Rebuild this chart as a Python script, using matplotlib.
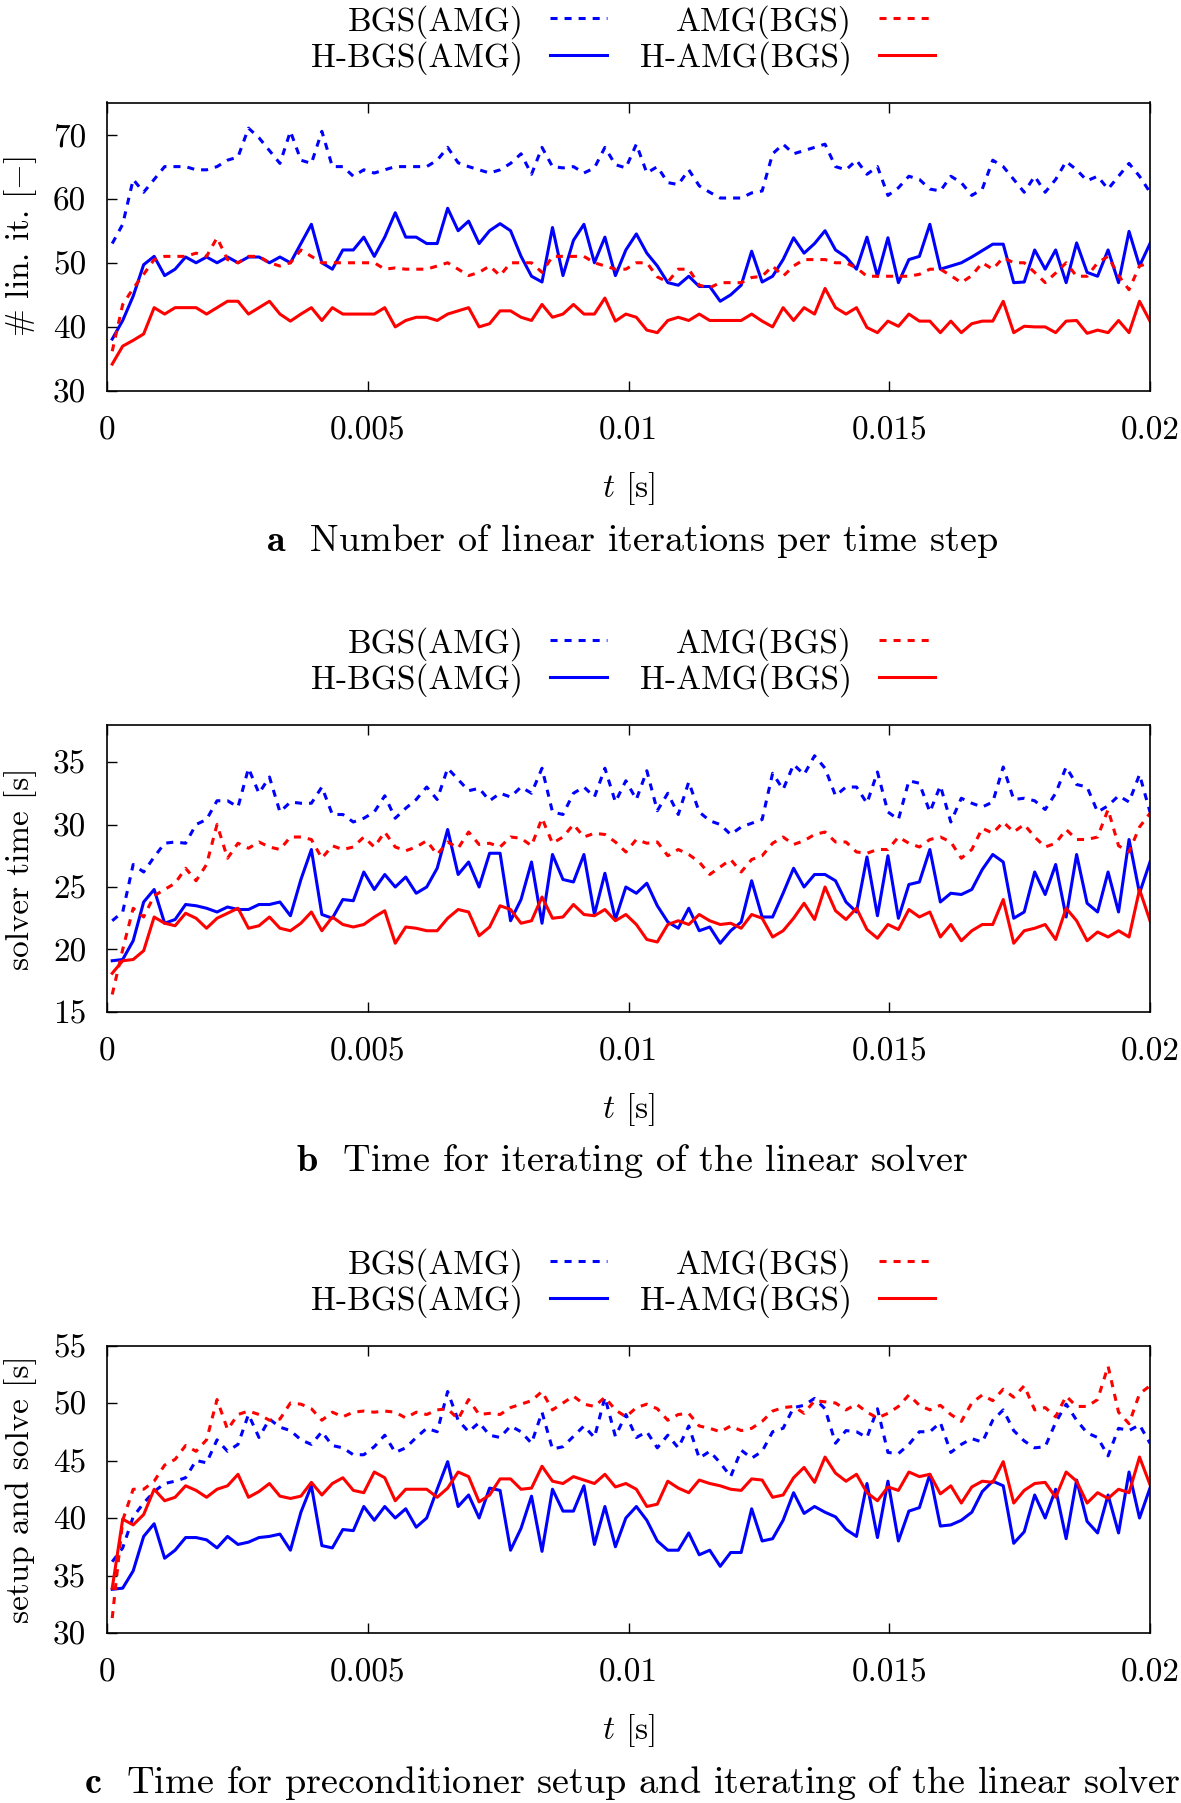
import numpy as np
import matplotlib
matplotlib.use("Agg")
import matplotlib.pyplot as plt

plt.rcParams["font.family"] = "cmr10"
plt.rcParams["mathtext.fontset"] = "cm"
plt.rcParams["axes.formatter.use_mathtext"] = True
plt.rcParams["font.size"] = 24

# series, one value per sample over t in [1e-4, 0.02]
a_bgs_amg = [53, 56, 63, 61, 63, 65, 65, 65, 64.5, 64.5, 65, 66, 66.5, 71, 69.5, 67.5, 65.5, 70.5, 66, 65.5,
             70.5, 65, 65, 63.5, 64.5, 64, 64.5, 65, 65, 65, 65, 66, 68, 65.6, 65, 64.5, 64, 64.5, 65.5, 67,
             63.8, 68, 65, 64.8, 65, 64, 64.8, 68, 65.3, 64.8,
             68.5, 64, 65, 62.5, 62.2, 64.5, 62, 61, 60.1, 60.1, 60.1, 60.9, 61.2, 67, 68.5, 67, 67.5, 68, 68.5, 65,
             64.5, 66, 63.8, 65, 60.5, 61.7, 63.5, 63, 61.5, 61.2, 63.5, 62.5, 60.5, 61.5, 66, 65, 63, 61, 63.5, 61,
             63, 65.8, 64.5, 62.8, 63.5, 61.5, 63.5, 65.5, 63.5, 61]
a_hbgs_amg = [38.1, 41, 44.8, 49.7, 51, 48, 49, 50.9, 50, 50.9, 50, 50.9, 50, 50.9, 50.9, 50, 50.9, 50, 53, 56,
              50, 49, 52, 52, 54, 51, 54, 57.8, 54, 54, 53, 53, 58.5, 55, 56.5, 53, 55, 56.1, 55, 51,
              47.9, 47, 55.5, 48, 53.5, 56, 50, 54, 48, 52,
              54.5, 51.5, 49.5, 46.9, 46.5, 47.9, 46.3, 46.3, 44, 45, 46.5, 51.8, 47, 47.9, 50.5, 53.9, 51.5, 53, 55, 52,
              50.9, 49, 54, 47.9, 53.9, 46.9, 50.5, 51, 56, 49, 49.5, 50, 50.9, 51.9, 52.9, 52.9, 46.9, 47, 52, 49,
              52, 46.9, 53.1, 48.5, 47.9, 52, 46.9, 54.9, 49.5, 53]
a_amg_bgs = [36.2, 43.5, 46, 48.2, 50.5, 51, 51, 51, 51.5, 51, 53.9, 50.5, 50, 51, 51, 50, 49.5, 50, 52, 51,
             50, 50, 50, 50, 50, 50, 49, 49.2, 49, 49, 49, 49.5, 50, 49, 48, 48.5, 49.5, 48, 50, 50,
             50, 48.5, 51, 51, 51, 51, 50, 49.5, 49, 49,
             50, 50, 47.8, 47, 49, 49, 46.5, 46.1, 46.9, 46.9, 46.9, 47.7, 47.9, 49.5, 47.9, 49.5, 50.5, 50.5, 50.5, 50,
             50, 49.2, 47.9, 47.9, 47.9, 47.9, 47.9, 48.2, 49, 49, 48, 46.9, 48, 50, 49, 50.8, 50, 50, 48.5, 46.9,
             48.4, 50, 47.9, 47.9, 50, 51, 48, 45.8, 49.5, 50]
a_hamg_bgs = [34.2, 37, 37.9, 38.9, 43, 42, 43, 43, 43, 42, 43, 44, 44, 42, 43, 44, 42, 40.9, 42, 43,
              41, 43, 42, 42, 42, 42, 43, 40, 41, 41.5, 41.5, 41, 42, 42.5, 43, 40, 40.5, 42.5, 42.5, 41.5,
              41, 43.5, 41.5, 42, 43.5, 42, 42, 44.5, 40.9, 42,
              41.5, 39.5, 39.1, 41, 41.5, 41, 42, 41, 41, 41, 41, 42, 40.9, 40, 43, 41, 43, 42, 46, 43,
              42, 43, 39.9, 39.1, 40.9, 40.1, 42, 40.9, 40.9, 39.1, 40.9, 39.1, 40.5, 40.9, 40.9, 44, 39.1, 40.1, 40, 40,
              39.1, 40.9, 41, 39, 39.5, 39.1, 41, 39.1, 44, 40.9]

b_bgs_amg = [22.3, 23, 26.8, 26.2, 27.4, 28.5, 28.6, 28.5, 30, 30.4, 31.9, 31.9, 31.4, 34.5, 32.5, 33.8, 31, 31.8, 31.7, 31.7,
             33, 30.8, 30.8, 30.2, 30.5, 31, 32.3, 30.5, 31.3, 32, 33, 32, 34.5, 33.6, 32.7, 32.9, 31.9, 32.5, 32.2, 33,
             32.5, 34.5, 31, 30.8, 32.5, 33, 32.2, 34.5, 31.8, 33.5,
             32, 34.3, 31.1, 32.5, 30.8, 33.4, 31, 30.3, 30, 29.2, 29.8, 30.1, 30.4, 34.1, 32.8, 34.8, 34, 35.5, 34.5, 32.3,
             33, 33, 31.7, 34.2, 31, 30.4, 33.5, 33.3, 31, 33.1, 30.2, 32.1, 31.7, 31.4, 31.8, 34.6, 32, 32.1, 31.9, 31.2,
             32.5, 34.6, 33.2, 33, 31, 31.5, 32.3, 31.8, 34, 31]
b_hbgs_amg = [19.1, 19.2, 20.7, 23.8, 24.8, 22.1, 22.4, 23.6, 23.5, 23.3, 23, 23.4, 23.2, 23.2, 23.6, 23.6, 23.8, 22.7, 25.6, 28,
              22.8, 22.5, 24, 23.9, 26.2, 24.8, 26, 25, 25.8, 24.5, 25, 26.5, 29.6, 26, 27, 25, 27.7, 27.7, 22.3, 24,
              27, 22.1, 27.6, 25.6, 25.4, 27.6, 22.8, 26.1, 22.4, 25,
              24.5, 25.3, 23.5, 22.2, 21.7, 23.3, 21.5, 21.8, 20.5, 21.5, 22.2, 25.5, 22.6, 22.6, 24.5, 26.5, 25, 26, 26, 25.5,
              23.8, 23, 27.4, 22.7, 27.5, 22.5, 25.2, 25.4, 28, 23.8, 24.5, 24.4, 24.8, 26.4, 27.6, 27, 22.5, 23, 26.2, 24.4,
              26.8, 22.6, 27.6, 23.7, 23, 26.2, 23, 28.8, 24.5, 27]
b_amg_bgs = [16.4, 20, 23.3, 22.6, 24.3, 24.8, 25.3, 26.5, 25.5, 26.8, 30, 27.3, 28.5, 28.1, 28.6, 28.2, 28, 29, 29, 28.8,
             27.3, 28.3, 28, 28.2, 29, 28.2, 29.4, 28.2, 27.9, 28.2, 28.7, 27.6, 28.6, 28.1, 29.4, 28.4, 28.5, 28.2, 29, 28.9,
             28.3, 30.5, 28.5, 29, 30, 29, 29.3, 29.2, 28.6, 27.8,
             28.8, 28.5, 28.6, 27.5, 28, 27.6, 27, 26, 26.6, 27.2, 26.2, 27.2, 27.5, 28.5, 29, 28.4, 28.7, 29.2, 29.4, 28.6,
             28.6, 27.8, 27.7, 28, 28, 29, 28.5, 28.2, 28.8, 29, 28.6, 27.3, 28, 29.7, 29.3, 30.2, 29.4, 30, 29, 28.2,
             28.5, 29.6, 28.8, 28.8, 29, 31.2, 28.3, 27.8, 29.8, 30.9]
b_hamg_bgs = [18.1, 19.1, 19.2, 19.9, 22.6, 22.1, 21.9, 22.9, 22.5, 21.7, 22.5, 22.9, 23.3, 21.7, 21.9, 22.6, 21.7, 21.5, 22.1, 23,
              21.5, 22.6, 22, 21.8, 22, 22.6, 23.1, 20.5, 21.8, 21.7, 21.5, 21.5, 22.5, 23.2, 23, 21.1, 21.8, 23.5, 23.2, 22.1,
              22.3, 24.2, 22.5, 22.6, 23.6, 22.8, 22.7, 23.2, 22.3, 22.8,
              22, 20.8, 20.6, 22, 22.3, 22, 22.8, 22.3, 22, 22.1, 21.7, 22.8, 22.5, 21, 21.5, 22.5, 23.7, 22.4, 25, 23.1,
              22.4, 23.3, 21.6, 20.9, 22, 21.6, 23.2, 22.6, 23, 21, 22, 20.7, 21.5, 22, 22, 24, 20.5, 21.5, 21.7, 22,
              20.8, 23.3, 22.3, 20.7, 21.4, 21, 21.5, 21, 24.8, 22.3]

c_bgs_amg = [36.2, 37.4, 40.1, 41.3, 42.3, 43, 43.2, 43.5, 45, 44.8, 46.8, 45.8, 46.4, 49, 47, 48.6, 47.9, 47.6, 46.8, 46.4,
             47.5, 46.3, 46.1, 45.5, 45.5, 46.2, 47.2, 45.7, 46.1, 47, 47.8, 47.5, 51, 48.5, 47.5, 48.3, 47.2, 47, 48, 47.5,
             46.5, 49.2, 46, 46.2, 47.1, 48, 47, 50.5, 47.1, 49,
             47, 47.5, 46.1, 47.2, 46.1, 48, 45.2, 45.8, 44.8, 43.6, 45.9, 45.2, 45.8, 47.5, 47.8, 49.6, 49.8, 50.4, 49.5, 46.5,
             47.6, 47.5, 47, 49.5, 45.7, 45.6, 46.4, 47.5, 47.5, 48.3, 45.7, 46.4, 46.9, 46.6, 48.5, 49.4, 47.6, 46.7, 46.1, 46.2,
             48.3, 49.9, 48.5, 47.4, 47, 45.4, 47.8, 47.6, 48.1, 46.5]
c_hbgs_amg = [33.8, 33.9, 35.4, 38.4, 39.5, 36.5, 37.2, 38.3, 38.3, 38.1, 37.4, 38.4, 37.7, 37.9, 38.3, 38.4, 38.6, 37.2, 40.5, 42.8,
              37.6, 37.4, 39, 38.9, 41, 39.8, 41, 40, 40.8, 39.2, 40, 42.5, 44.9, 41, 42, 40, 42.6, 42.4, 37.2, 39.1,
              41.9, 37.1, 42.5, 40.6, 40.6, 42.8, 37.7, 41, 37.5, 40,
              41, 39.8, 38, 37.2, 37.2, 38.7, 36.8, 37.2, 35.8, 37, 37, 40.8, 38, 38.2, 39.8, 42.2, 40.4, 41, 40.5, 40.1,
              39, 38.4, 43, 38.3, 43.2, 38, 40.6, 40.9, 43.8, 39.3, 39.4, 39.8, 40.5, 42.3, 43.2, 42.8, 37.8, 38.8, 42, 40,
              42.5, 38.2, 43.3, 39.7, 38.7, 42, 38.7, 44, 40, 42.6]
c_amg_bgs = [31.3, 39.8, 42.5, 42.5, 43.2, 44.6, 45.1, 46.3, 45.8, 46.8, 50.3, 47.7, 49, 49.3, 49, 48.5, 48.6, 50, 49.9, 49.5,
             48.5, 49.2, 48.8, 49.2, 49.3, 49.2, 49.3, 49.2, 48.7, 49.2, 49, 49.4, 49.5, 48.6, 50.3, 49, 49.1, 49, 49.6, 49.9,
             50.2, 51, 49.4, 50, 50.6, 49.9, 49.7, 50.5, 49.4, 48.8,
             49.6, 49.9, 49.5, 48.5, 49, 49.1, 48, 47.8, 47.5, 48, 47.6, 47.8, 48.4, 49.3, 49.6, 49.7, 49.1, 50.2, 50.1, 50,
             49.4, 49.9, 49.2, 48.7, 49.1, 49.7, 50.7, 49.8, 49.4, 49.8, 49, 48.4, 50, 50.7, 50.2, 51.2, 50.5, 51.5, 49.4, 49.6,
             48.8, 50.6, 49.7, 49.7, 50.3, 53.2, 49.2, 48.2, 50.8, 51.5]
c_hamg_bgs = [33.9, 39.9, 39.4, 40.3, 42.5, 41.5, 41.8, 42.8, 42.4, 41.8, 42.5, 42.8, 43.8, 41.8, 42.3, 43, 41.9, 41.7, 41.9, 43.1,
              42, 43, 43.5, 42.4, 42.2, 44, 43.5, 41.5, 42.5, 42.5, 42.5, 41.8, 42.6, 44, 43.6, 41.4, 42, 43.4, 43.4, 42.5,
              42.6, 44.5, 43.2, 43, 43.6, 43.3, 43, 43.8, 42.7, 43,
              42.5, 41, 41.2, 43.2, 42.6, 42.2, 43.3, 43, 42.8, 42.5, 42.4, 43.4, 43.3, 41.8, 42, 43.5, 44.4, 43.1, 45.3, 43.9,
              43.2, 43.8, 42.2, 41.5, 42.7, 42.4, 44, 43.6, 43.8, 42.1, 42.8, 41.3, 42.7, 43.2, 43.1, 44.9, 41.3, 42.4, 43, 43.1,
              41.8, 44, 43.2, 41.3, 42.2, 41.7, 42.5, 42.2, 45.3, 42.9]

x_ticks = [0, 0.005, 0.01, 0.015, 0.02]
x_tick_labels = ["0", "0.005", "0.01", "0.015", "0.02"]

panels = [
    dict(series=(a_bgs_amg, a_hbgs_amg, a_amg_bgs, a_hamg_bgs), ylim=(30, 75), yticks=[30, 40, 50, 60, 70],
         ylabel=r"# lin. it. $[-]$", caption=r"$\mathbf{a}$  Number of linear iterations per time step"),
    dict(series=(b_bgs_amg, b_hbgs_amg, b_amg_bgs, b_hamg_bgs), ylim=(15, 38), yticks=[15, 20, 25, 30, 35],
         ylabel="solver time [s]", caption=r"$\mathbf{b}$  Time for iterating of the linear solver"),
    dict(series=(c_bgs_amg, c_hbgs_amg, c_amg_bgs, c_hamg_bgs), ylim=(30, 55), yticks=[30, 35, 40, 45, 50, 55],
         ylabel="setup and solve [s]",
         caption=r"$\mathbf{c}$  Time for preconditioner setup and iterating of the linear solver"),
]

labels = ["BGS(AMG)", "H-BGS(AMG)", "AMG(BGS)", "H-AMG(BGS)"]
colors = ["#0000ff", "#0000ff", "#ff0000", "#ff0000"]
dotted = (0, (2.3, 2.3))
styles = [dotted, "-", dotted, "-"]

W, H = 1181, 1803
# axes boxes in pixels: (top, bottom)
boxes = [(102.5, 391), (724.5, 1012), (1345.5, 1633)]
left_px, right_px = 107, 1150

fig = plt.figure(figsize=(W / 100, H / 100), dpi=100)

for panel, (top, bot) in zip(panels, boxes):
    ax = fig.add_axes([left_px / W, 1 - bot / H, (right_px - left_px) / W, (bot - top) / H])
    lines = []
    for vals, lab, col, ls in zip(panel["series"], labels, colors, styles):
        t = np.linspace(1e-4, 0.02, len(vals))
        ln, = ax.plot(t, vals, color=col, linestyle=ls, lw=2.2, label=lab)
        lines.append(ln)
    ax.set_xlim(0, 0.02)
    ax.set_ylim(*panel["ylim"])
    ax.set_xticks(x_ticks)
    ax.set_xticklabels(x_tick_labels)
    ax.set_yticks(panel["yticks"])
    ax.set_yticklabels([str(v) for v in panel["yticks"]])
    ax.tick_params(axis="x", direction="in", length=7, width=1, top=True, pad=18)
    ax.tick_params(axis="y", direction="in", length=7, width=1, right=False, pad=15)
    for sp in ax.spines.values():
        sp.set_linewidth(1.2)

    ax.legend(handles=lines, loc="lower center", bbox_to_anchor=(0.495, 1.095), ncol=2,
              markerfirst=False, frameon=False, handlelength=1.7, handletextpad=0.8,
              columnspacing=1.0, labelspacing=0.08, borderpad=0, borderaxespad=0)

    ymid = 1 - (top + bot) / 2 / H
    fig.text(21 / W, ymid, panel["ylabel"], rotation=90, ha="center", va="center")
    fig.text(628 / W, 1 - (bot + 98) / H, r"$t$ [s]", ha="center", va="center")
    fig.text(632 / W, 1 - (bot + 149.5) / H, panel["caption"], ha="center", va="center", fontsize=27.5)

fig.savefig("out.png", dpi=100)
